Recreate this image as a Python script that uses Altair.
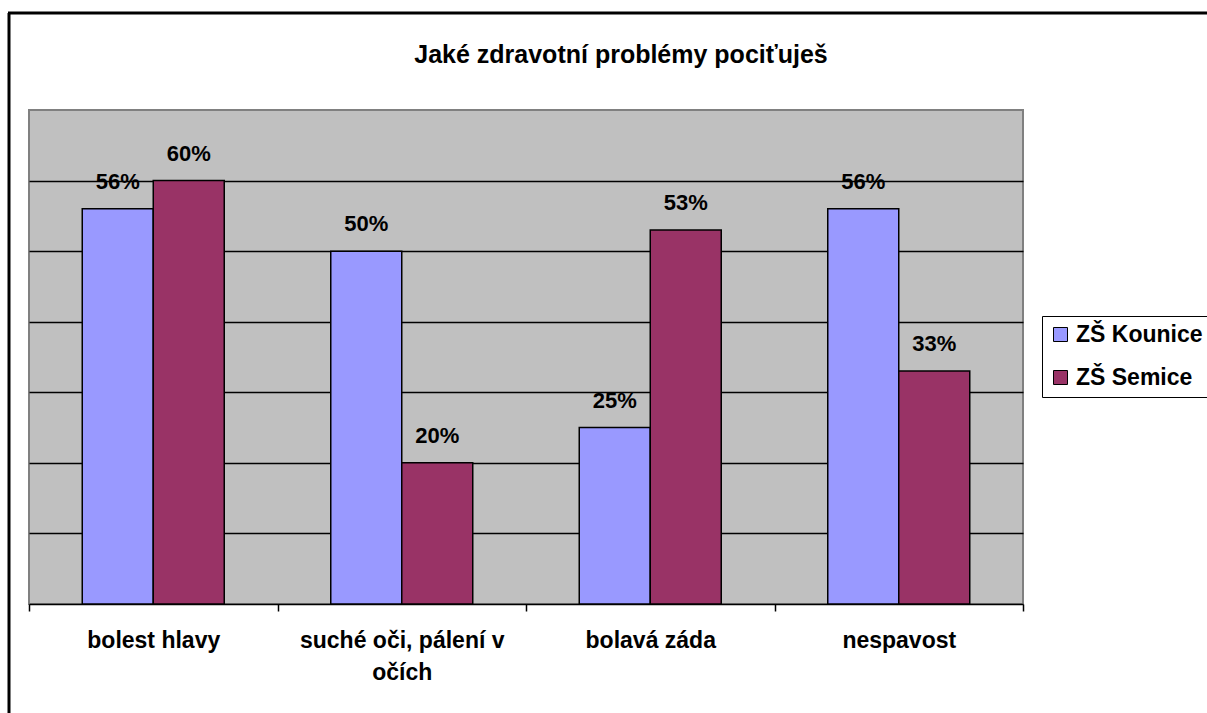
import altair as alt
import pandas as pd

categories = ["bolest hlavy", "suché oči, pálení v očích", "bolavá záda", "nespavost"]
schools = ["ZŠ Kounice", "ZŠ Semice"]
kounice = [56, 50, 25, 56]
semice = [60, 20, 53, 33]
title_text = "Jaké zdravotní problémy pociťuješ"
grid_values = [10, 20, 30, 40, 50, 60]
colors = ["#9999FF", "#993366"]

rows = []
for i, c in enumerate(categories):
    rows.append({"kategorie": c, "skola": schools[0], "hodnota": kounice[i]})
    rows.append({"kategorie": c, "skola": schools[1], "hodnota": semice[i]})
df = pd.DataFrame(rows)

FONT = "Liberation Sans"
W, H = 994, 494

x_enc = alt.X(
    "kategorie:N", sort=categories, title=None,
    scale=alt.Scale(paddingInner=0, paddingOuter=0),
    axis=alt.Axis(
        labelAngle=0, tickBand="extent", labelFont=FONT, labelFontSize=23,
        labelFontWeight="bold", labelColor="black", domainColor="black",
        domainWidth=1.5, tickColor="black", tickSize=7, tickWidth=1.5,
        labelPadding=18, labelLineHeight=32, labelLimit=400, labelOverlap=False,
        labelExpr="datum.label == 'suché oči, pálení v očích' ? ['suché oči, pálení v', 'očích'] : datum.label",
        grid=False,
    ),
)
y_enc = alt.Y(
    "hodnota:Q", title=None,
    scale=alt.Scale(domain=[0, 70], nice=False, zero=True),
    axis=alt.Axis(values=grid_values, labels=False, ticks=False, domain=False,
                  grid=True, gridColor="black", gridWidth=1.6),
)
xoff = alt.XOffset("skola:N", sort=schools,
                   scale=alt.Scale(paddingInner=0, paddingOuter=0.75))

base = alt.Chart(df)

bars = base.mark_bar(stroke="black", strokeWidth=1.5).encode(
    x=x_enc, xOffset=xoff, y=y_enc,
    color=alt.Color(
        "skola:N", sort=schools,
        scale=alt.Scale(domain=schools, range=colors),
        legend=alt.Legend(
            title=None, orient="none", legendX=1013, legendY=206,
            fillColor="white", strokeColor="black", padding=7,
            symbolType="square", symbolSize=196, symbolStrokeColor="black",
            symbolStrokeWidth=1, symbolOpacity=1,
            labelFont=FONT, labelFontSize=23, labelFontWeight="bold",
            labelColor="black", labelOffset=4, rowPadding=19, labelLimit=300,
        ),
    ),
)

labels = base.transform_calculate(
    lab="datum.hodnota + '%'"
).mark_text(font=FONT, fontSize=22, fontWeight="bold", dy=-27,
            baseline="middle", color="black").encode(
    x=alt.X("kategorie:N", sort=categories),
    xOffset=alt.XOffset("skola:N", sort=schools),
    y=alt.Y("hodnota:Q"),
    text="lab:N",
)

title = alt.Chart(alt.Data(values=[{"t": title_text}])).mark_text(
    font=FONT, fontSize=25, fontWeight="bold", color="black", baseline="middle"
).encode(x=alt.value(592), y=alt.value(-55), text="t:N")

one = alt.Data(values=[{"a": 1}])
border_left = alt.Chart(one).mark_rule(color="black", strokeWidth=3).encode(
    x=alt.value(-20), y=alt.value(-97), y2=alt.value(620))
border_top = alt.Chart(one).mark_rule(color="black", strokeWidth=3).encode(
    x=alt.value(-21), x2=alt.value(1200), y=alt.value(-97))

chart = alt.layer(bars, labels, title, border_left, border_top).properties(
    width=W, height=H,
    padding={"left": 29, "top": 110, "right": 184, "bottom": 109},
    autosize=alt.AutoSizeParams(type="none"),
    background="white",
).configure_view(fill="#C0C0C0", stroke="#808080", strokeWidth=2)

chart.save("out.html", embed_options={"renderer": "svg", "actions": False})
